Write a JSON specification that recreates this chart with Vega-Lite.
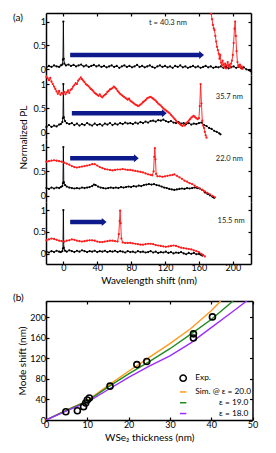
{
"$schema":"https://vega.github.io/schema/vega-lite/v6.json",
"padding":{"left":13,"top":12,"right":5,"bottom":5},
"config":{"font":"Lato","view":{"stroke":null},
"axis":{"domainColor":"black","domainWidth":1.5,"tickColor":"black","tickWidth":1.2,"tickSize":-3,"labelFontSize":9,"labelColor":"black","titleFontSize":10,"titleFontWeight":"normal","titleColor":"black","grid":false,"labelPadding":2,"labelOverlap":false,"labelFlush":false,"labelBound":false},
"axisLeft":{"labelPadding":3.5},
"title":{"fontWeight":"normal","fontSize":10,"color":"black"}},
"datasets":{
"a1":[
{"s":"r","x":-20,"y":0.04},{"s":"r","x":-17,"y":0.07},{"s":"r","x":-14,"y":0.05},{"s":"r","x":-11,"y":0.08},{"s":"r","x":-8,"y":0.06},{"s":"r","x":-5,"y":0.05},{"s":"r","x":-3,"y":0.08},{"s":"r","x":-1.2,"y":0.1},{"s":"r","x":-0.5,"y":0.2},{"s":"r","x":0,"y":1.0},{"s":"r","x":0.5,"y":0.22},{"s":"r","x":1.2,"y":0.12},{"s":"r","x":3,"y":0.08},{"s":"r","x":6,"y":0.1},{"s":"r","x":9,"y":0.07},{"s":"r","x":12,"y":0.09},{"s":"r","x":15,"y":0.06},{"s":"r","x":18,"y":0.08},{"s":"r","x":21,"y":0.1},{"s":"r","x":24,"y":0.06},{"s":"r","x":27,"y":0.08},{"s":"r","x":30,"y":0.05},{"s":"r","x":33,"y":0.07},{"s":"r","x":36,"y":0.09},{"s":"r","x":39,"y":0.06},{"s":"r","x":42,"y":0.08},{"s":"r","x":45,"y":0.05},{"s":"r","x":48,"y":0.07},{"s":"r","x":51,"y":0.04},{"s":"r","x":54,"y":0.06},{"s":"r","x":57,"y":0.08},{"s":"r","x":60,"y":0.05},{"s":"r","x":63,"y":0.07},{"s":"r","x":66,"y":0.03},{"s":"r","x":69,"y":0.06},{"s":"r","x":72,"y":0.08},{"s":"r","x":75,"y":0.05},{"s":"r","x":78,"y":0.07},{"s":"r","x":81,"y":0.04},{"s":"r","x":84,"y":0.06},{"s":"r","x":87,"y":0.09},{"s":"r","x":90,"y":0.05},{"s":"r","x":93,"y":0.07},{"s":"r","x":96,"y":0.04},{"s":"r","x":99,"y":0.06},{"s":"r","x":102,"y":0.08},{"s":"r","x":105,"y":0.05},{"s":"r","x":108,"y":0.03},{"s":"r","x":111,"y":0.06},{"s":"r","x":114,"y":0.08},{"s":"r","x":117,"y":0.05},{"s":"r","x":120,"y":0.07},{"s":"r","x":123,"y":0.04},{"s":"r","x":126,"y":0.06},{"s":"r","x":129,"y":0.03},{"s":"r","x":132,"y":0.07},{"s":"r","x":135,"y":0.05},{"s":"r","x":138,"y":0.08},{"s":"r","x":141,"y":0.04},{"s":"r","x":144,"y":0.06},{"s":"r","x":147,"y":0.03},{"s":"r","x":150,"y":0.05},{"s":"r","x":153,"y":0.07},{"s":"r","x":156,"y":0.04},{"s":"r","x":159,"y":0.06},{"s":"r","x":162,"y":0.03},{"s":"r","x":165,"y":0.05},{"s":"r","x":168,"y":0.07},{"s":"r","x":171,"y":0.04},{"s":"r","x":174,"y":0.06},{"s":"r","x":177,"y":0.03},{"s":"r","x":180,"y":0.05},{"s":"r","x":183,"y":0.04},{"s":"r","x":186,"y":0.06},{"s":"r","x":189,"y":0.03},{"s":"r","x":192,"y":0.05},{"s":"r","x":195,"y":0.02},{"s":"r","x":198,"y":0.04},{"s":"r","x":201,"y":0.06},{"s":"r","x":204,"y":0.03},{"s":"r","x":207,"y":0.05},{"s":"r","x":210,"y":0.02},{"s":"r","x":213,"y":0.04},{"s":"r","x":216,"y":0.0},{"s":"r","x":219,"y":-0.02},{"s":"r","x":221,"y":-0.04},
{"s":"c","x":173.8,"y":1.25},{"s":"c","x":174.6,"y":1.16},{"s":"c","x":175.5,"y":1.05},{"s":"c","x":176.5,"y":0.93},{"s":"c","x":177.5,"y":0.86},{"s":"c","x":178.4,"y":0.82},{"s":"c","x":179.4,"y":0.7},{"s":"c","x":180.4,"y":0.58},{"s":"c","x":181.4,"y":0.47},{"s":"c","x":182.4,"y":0.4},{"s":"c","x":183.4,"y":0.33},{"s":"c","x":184.3,"y":0.22},{"s":"c","x":185.2,"y":0.3},{"s":"c","x":186.1,"y":0.14},{"s":"c","x":187,"y":0.08},{"s":"c","x":188,"y":0.18},{"s":"c","x":189,"y":0.1},{"s":"c","x":190,"y":0.04},{"s":"c","x":191,"y":0.12},{"s":"c","x":192,"y":0.02},{"s":"c","x":193,"y":0.08},{"s":"c","x":194,"y":0.15},{"s":"c","x":195,"y":0.06},{"s":"c","x":196,"y":0.1},{"s":"c","x":197,"y":0.04},{"s":"c","x":198,"y":0.12},{"s":"c","x":199,"y":0.18},{"s":"c","x":200,"y":0.3},{"s":"c","x":201,"y":0.55},{"s":"c","x":202,"y":0.85},{"s":"c","x":202.8,"y":1.0},{"s":"c","x":203.6,"y":0.7},{"s":"c","x":204.5,"y":0.38},{"s":"c","x":205.5,"y":0.15},{"s":"c","x":206.5,"y":0.08},{"s":"c","x":207.5,"y":0.05},{"s":"c","x":208.5,"y":0.1},{"s":"c","x":209.5,"y":0.03},{"s":"c","x":210.5,"y":0.06},{"s":"c","x":211.5,"y":0.01}
],
"a2":[
{"s":"r","x":-20,"y":0.12},{"s":"r","x":-17,"y":0.16},{"s":"r","x":-14,"y":0.12},{"s":"r","x":-11,"y":0.15},{"s":"r","x":-8,"y":0.13},{"s":"r","x":-5,"y":0.17},{"s":"r","x":-3,"y":0.18},{"s":"r","x":-1.2,"y":0.22},{"s":"r","x":-0.5,"y":0.3},{"s":"r","x":0,"y":1.0},{"s":"r","x":0.5,"y":0.32},{"s":"r","x":2,"y":0.24},{"s":"r","x":4,"y":0.2},{"s":"r","x":7,"y":0.18},{"s":"r","x":10,"y":0.2},{"s":"r","x":13,"y":0.16},{"s":"r","x":16,"y":0.19},{"s":"r","x":19,"y":0.15},{"s":"r","x":22,"y":0.18},{"s":"r","x":25,"y":0.16},{"s":"r","x":28,"y":0.2},{"s":"r","x":31,"y":0.17},{"s":"r","x":34,"y":0.15},{"s":"r","x":37,"y":0.19},{"s":"r","x":40,"y":0.16},{"s":"r","x":43,"y":0.18},{"s":"r","x":46,"y":0.15},{"s":"r","x":49,"y":0.19},{"s":"r","x":52,"y":0.17},{"s":"r","x":55,"y":0.2},{"s":"r","x":58,"y":0.16},{"s":"r","x":61,"y":0.19},{"s":"r","x":64,"y":0.17},{"s":"r","x":67,"y":0.2},{"s":"r","x":70,"y":0.18},{"s":"r","x":73,"y":0.21},{"s":"r","x":76,"y":0.19},{"s":"r","x":79,"y":0.2},{"s":"r","x":82,"y":0.18},{"s":"r","x":85,"y":0.21},{"s":"r","x":88,"y":0.19},{"s":"r","x":91,"y":0.22},{"s":"r","x":94,"y":0.2},{"s":"r","x":97,"y":0.23},{"s":"r","x":100,"y":0.21},{"s":"r","x":103,"y":0.24},{"s":"r","x":106,"y":0.25},{"s":"r","x":109,"y":0.23},{"s":"r","x":112,"y":0.26},{"s":"r","x":115,"y":0.25},{"s":"r","x":118,"y":0.27},{"s":"r","x":121,"y":0.24},{"s":"r","x":124,"y":0.22},{"s":"r","x":127,"y":0.24},{"s":"r","x":130,"y":0.21},{"s":"r","x":133,"y":0.2},{"s":"r","x":136,"y":0.22},{"s":"r","x":139,"y":0.19},{"s":"r","x":142,"y":0.2},{"s":"r","x":145,"y":0.18},{"s":"r","x":148,"y":0.2},{"s":"r","x":151,"y":0.17},{"s":"r","x":154,"y":0.19},{"s":"r","x":157,"y":0.18},{"s":"r","x":160,"y":0.2},{"s":"r","x":163,"y":0.21},{"s":"r","x":166,"y":0.16},{"s":"r","x":169,"y":0.14},{"s":"r","x":172,"y":0.1},{"s":"r","x":175,"y":0.08},{"s":"r","x":178,"y":0.04},{"s":"r","x":181,"y":0.02},{"s":"r","x":184,"y":-0.01},{"s":"r","x":185.5,"y":-0.03},
{"s":"c","x":-20,"y":1.15},{"s":"c","x":-18.5,"y":1.12},{"s":"c","x":-17,"y":1.08},{"s":"c","x":-15.5,"y":1.13},{"s":"c","x":-14,"y":1.05},{"s":"c","x":-12.5,"y":1.0},{"s":"c","x":-11,"y":0.95},{"s":"c","x":-9.5,"y":0.9},{"s":"c","x":-8,"y":0.85},{"s":"c","x":-6.5,"y":0.8},{"s":"c","x":-5,"y":0.86},{"s":"c","x":-3.5,"y":0.78},{"s":"c","x":-2,"y":0.82},{"s":"c","x":-0.5,"y":0.8},{"s":"c","x":1,"y":0.84},{"s":"c","x":2.5,"y":0.79},{"s":"c","x":4,"y":0.83},{"s":"c","x":5.5,"y":0.87},{"s":"c","x":7,"y":0.82},{"s":"c","x":8.5,"y":0.88},{"s":"c","x":10,"y":0.9},{"s":"c","x":11.5,"y":0.95},{"s":"c","x":13,"y":0.98},{"s":"c","x":14.5,"y":1.02},{"s":"c","x":16,"y":1.0},{"s":"c","x":17.5,"y":1.07},{"s":"c","x":19,"y":1.1},{"s":"c","x":20.5,"y":1.14},{"s":"c","x":22,"y":1.1},{"s":"c","x":23.5,"y":1.07},{"s":"c","x":25,"y":1.04},{"s":"c","x":26.5,"y":1.0},{"s":"c","x":28,"y":0.98},{"s":"c","x":29.5,"y":0.96},{"s":"c","x":31,"y":0.93},{"s":"c","x":32.5,"y":0.9},{"s":"c","x":34,"y":0.88},{"s":"c","x":35.5,"y":0.85},{"s":"c","x":37,"y":0.82},{"s":"c","x":38.5,"y":0.8},{"s":"c","x":40,"y":0.78},{"s":"c","x":41.5,"y":0.76},{"s":"c","x":43,"y":0.79},{"s":"c","x":44.5,"y":0.75},{"s":"c","x":46,"y":0.73},{"s":"c","x":47.5,"y":0.76},{"s":"c","x":49,"y":0.78},{"s":"c","x":50.5,"y":0.8},{"s":"c","x":52,"y":0.84},{"s":"c","x":53.5,"y":0.86},{"s":"c","x":55,"y":0.89},{"s":"c","x":56.5,"y":0.9},{"s":"c","x":58,"y":0.92},{"s":"c","x":59.5,"y":0.95},{"s":"c","x":61,"y":0.93},{"s":"c","x":62.5,"y":0.9},{"s":"c","x":64,"y":0.86},{"s":"c","x":65.5,"y":0.83},{"s":"c","x":67,"y":0.8},{"s":"c","x":68.5,"y":0.78},{"s":"c","x":70,"y":0.76},{"s":"c","x":71.5,"y":0.74},{"s":"c","x":73,"y":0.72},{"s":"c","x":74.5,"y":0.7},{"s":"c","x":76,"y":0.68},{"s":"c","x":77.5,"y":0.7},{"s":"c","x":79,"y":0.66},{"s":"c","x":80.5,"y":0.64},{"s":"c","x":82,"y":0.62},{"s":"c","x":83.5,"y":0.6},{"s":"c","x":85,"y":0.58},{"s":"c","x":86.5,"y":0.57},{"s":"c","x":88,"y":0.55},{"s":"c","x":89.5,"y":0.56},{"s":"c","x":91,"y":0.58},{"s":"c","x":92.5,"y":0.6},{"s":"c","x":94,"y":0.63},{"s":"c","x":95.5,"y":0.65},{"s":"c","x":97,"y":0.67},{"s":"c","x":98.5,"y":0.7},{"s":"c","x":100,"y":0.72},{"s":"c","x":101.5,"y":0.73},{"s":"c","x":103,"y":0.74},{"s":"c","x":104.5,"y":0.72},{"s":"c","x":106,"y":0.7},{"s":"c","x":107.5,"y":0.68},{"s":"c","x":109,"y":0.66},{"s":"c","x":110.5,"y":0.63},{"s":"c","x":112,"y":0.6},{"s":"c","x":113.5,"y":0.58},{"s":"c","x":115,"y":0.56},{"s":"c","x":116.5,"y":0.53},{"s":"c","x":118,"y":0.5},{"s":"c","x":119.5,"y":0.48},{"s":"c","x":121,"y":0.46},{"s":"c","x":122.5,"y":0.44},{"s":"c","x":124,"y":0.42},{"s":"c","x":125.5,"y":0.4},{"s":"c","x":127,"y":0.37},{"s":"c","x":128.5,"y":0.34},{"s":"c","x":130,"y":0.31},{"s":"c","x":131.5,"y":0.28},{"s":"c","x":133,"y":0.25},{"s":"c","x":134.5,"y":0.22},{"s":"c","x":136,"y":0.2},{"s":"c","x":137.5,"y":0.18},{"s":"c","x":139,"y":0.16},{"s":"c","x":140.5,"y":0.14},{"s":"c","x":142,"y":0.17},{"s":"c","x":143.5,"y":0.15},{"s":"c","x":145,"y":0.2},{"s":"c","x":146.5,"y":0.22},{"s":"c","x":148,"y":0.25},{"s":"c","x":149.5,"y":0.28},{"s":"c","x":151,"y":0.31},{"s":"c","x":152.5,"y":0.33},{"s":"c","x":154,"y":0.35},{"s":"c","x":155.5,"y":0.32},{"s":"c","x":157,"y":0.3},{"s":"c","x":158.5,"y":0.28},{"s":"c","x":160,"y":0.3},{"s":"c","x":161,"y":0.55},{"s":"c","x":162,"y":1.0},{"s":"c","x":163,"y":0.6},{"s":"c","x":164,"y":0.25},{"s":"c","x":165,"y":0.15},{"s":"c","x":166,"y":0.1},{"s":"c","x":167,"y":0.02},{"s":"c","x":168,"y":-0.05},{"s":"c","x":169,"y":-0.1}
],
"a3":[
{"s":"r","x":-20,"y":0.16},{"s":"r","x":-17,"y":0.14},{"s":"r","x":-14,"y":0.17},{"s":"r","x":-11,"y":0.15},{"s":"r","x":-8,"y":0.17},{"s":"r","x":-5,"y":0.16},{"s":"r","x":-3,"y":0.18},{"s":"r","x":-1.2,"y":0.2},{"s":"r","x":-0.5,"y":0.26},{"s":"r","x":0,"y":1.0},{"s":"r","x":0.5,"y":0.28},{"s":"r","x":2,"y":0.22},{"s":"r","x":4,"y":0.19},{"s":"r","x":7,"y":0.17},{"s":"r","x":10,"y":0.16},{"s":"r","x":13,"y":0.15},{"s":"r","x":16,"y":0.16},{"s":"r","x":19,"y":0.15},{"s":"r","x":22,"y":0.17},{"s":"r","x":25,"y":0.16},{"s":"r","x":28,"y":0.17},{"s":"r","x":31,"y":0.18},{"s":"r","x":34,"y":0.2},{"s":"r","x":36,"y":0.23},{"s":"r","x":38,"y":0.22},{"s":"r","x":41,"y":0.19},{"s":"r","x":44,"y":0.17},{"s":"r","x":47,"y":0.16},{"s":"r","x":50,"y":0.15},{"s":"r","x":53,"y":0.16},{"s":"r","x":56,"y":0.17},{"s":"r","x":59,"y":0.16},{"s":"r","x":62,"y":0.17},{"s":"r","x":65,"y":0.16},{"s":"r","x":68,"y":0.18},{"s":"r","x":71,"y":0.17},{"s":"r","x":74,"y":0.18},{"s":"r","x":77,"y":0.19},{"s":"r","x":80,"y":0.18},{"s":"r","x":83,"y":0.2},{"s":"r","x":86,"y":0.19},{"s":"r","x":89,"y":0.21},{"s":"r","x":92,"y":0.2},{"s":"r","x":95,"y":0.22},{"s":"r","x":98,"y":0.23},{"s":"r","x":101,"y":0.24},{"s":"r","x":104,"y":0.23},{"s":"r","x":107,"y":0.24},{"s":"r","x":110,"y":0.22},{"s":"r","x":113,"y":0.21},{"s":"r","x":116,"y":0.19},{"s":"r","x":119,"y":0.17},{"s":"r","x":122,"y":0.16},{"s":"r","x":125,"y":0.14},{"s":"r","x":128,"y":0.13},{"s":"r","x":131,"y":0.12},{"s":"r","x":134,"y":0.13},{"s":"r","x":137,"y":0.14},{"s":"r","x":140,"y":0.15},{"s":"r","x":143,"y":0.14},{"s":"r","x":146,"y":0.16},{"s":"r","x":149,"y":0.15},{"s":"r","x":152,"y":0.16},{"s":"r","x":155,"y":0.17},{"s":"r","x":158,"y":0.16},{"s":"r","x":161,"y":0.15},{"s":"r","x":164,"y":0.12},{"s":"r","x":167,"y":0.07},{"s":"r","x":170,"y":0.04},{"s":"r","x":173,"y":0.01},{"s":"r","x":176,"y":-0.02},{"s":"r","x":178,"y":-0.04},
{"s":"c","x":-20,"y":0.7},{"s":"c","x":-17,"y":0.71},{"s":"c","x":-14,"y":0.72},{"s":"c","x":-11,"y":0.73},{"s":"c","x":-8,"y":0.72},{"s":"c","x":-5,"y":0.71},{"s":"c","x":-2,"y":0.7},{"s":"c","x":1,"y":0.68},{"s":"c","x":4,"y":0.66},{"s":"c","x":7,"y":0.64},{"s":"c","x":10,"y":0.61},{"s":"c","x":13,"y":0.59},{"s":"c","x":16,"y":0.58},{"s":"c","x":19,"y":0.59},{"s":"c","x":22,"y":0.6},{"s":"c","x":25,"y":0.61},{"s":"c","x":28,"y":0.62},{"s":"c","x":31,"y":0.63},{"s":"c","x":34,"y":0.65},{"s":"c","x":37,"y":0.65},{"s":"c","x":40,"y":0.62},{"s":"c","x":43,"y":0.59},{"s":"c","x":46,"y":0.57},{"s":"c","x":49,"y":0.55},{"s":"c","x":52,"y":0.54},{"s":"c","x":55,"y":0.53},{"s":"c","x":58,"y":0.52},{"s":"c","x":61,"y":0.53},{"s":"c","x":64,"y":0.54},{"s":"c","x":67,"y":0.54},{"s":"c","x":70,"y":0.55},{"s":"c","x":73,"y":0.54},{"s":"c","x":76,"y":0.53},{"s":"c","x":79,"y":0.53},{"s":"c","x":82,"y":0.52},{"s":"c","x":85,"y":0.51},{"s":"c","x":88,"y":0.5},{"s":"c","x":91,"y":0.49},{"s":"c","x":94,"y":0.48},{"s":"c","x":97,"y":0.46},{"s":"c","x":100,"y":0.44},{"s":"c","x":103,"y":0.43},{"s":"c","x":105,"y":0.42},{"s":"c","x":106.5,"y":0.5},{"s":"c","x":107.3,"y":0.8},{"s":"c","x":108,"y":0.98},{"s":"c","x":108.7,"y":0.75},{"s":"c","x":109.5,"y":0.45},{"s":"c","x":111,"y":0.4},{"s":"c","x":114,"y":0.4},{"s":"c","x":117,"y":0.39},{"s":"c","x":120,"y":0.4},{"s":"c","x":123,"y":0.41},{"s":"c","x":126,"y":0.42},{"s":"c","x":129,"y":0.43},{"s":"c","x":131,"y":0.44},{"s":"c","x":134,"y":0.41},{"s":"c","x":137,"y":0.38},{"s":"c","x":140,"y":0.35},{"s":"c","x":143,"y":0.31},{"s":"c","x":146,"y":0.29},{"s":"c","x":149,"y":0.26},{"s":"c","x":152,"y":0.24},{"s":"c","x":155,"y":0.21},{"s":"c","x":158,"y":0.18},{"s":"c","x":161,"y":0.15},{"s":"c","x":164,"y":0.12},{"s":"c","x":167,"y":0.09},{"s":"c","x":170,"y":0.06},{"s":"c","x":173,"y":0.03},{"s":"c","x":176,"y":0.0},{"s":"c","x":179,"y":-0.03}
],
"a4":[
{"s":"r","x":-20,"y":0.05},{"s":"r","x":-17,"y":0.03},{"s":"r","x":-14,"y":0.06},{"s":"r","x":-11,"y":0.04},{"s":"r","x":-8,"y":0.07},{"s":"r","x":-5,"y":0.05},{"s":"r","x":-3,"y":0.04},{"s":"r","x":-1.2,"y":0.06},{"s":"r","x":-0.5,"y":0.12},{"s":"r","x":0,"y":1.0},{"s":"r","x":0.5,"y":0.14},{"s":"r","x":2,"y":0.07},{"s":"r","x":4,"y":0.05},{"s":"r","x":7,"y":0.08},{"s":"r","x":10,"y":0.06},{"s":"r","x":13,"y":0.04},{"s":"r","x":16,"y":0.07},{"s":"r","x":19,"y":0.05},{"s":"r","x":22,"y":0.08},{"s":"r","x":25,"y":0.06},{"s":"r","x":28,"y":0.04},{"s":"r","x":31,"y":0.06},{"s":"r","x":34,"y":0.05},{"s":"r","x":37,"y":0.07},{"s":"r","x":40,"y":0.04},{"s":"r","x":43,"y":0.06},{"s":"r","x":46,"y":0.05},{"s":"r","x":49,"y":0.07},{"s":"r","x":52,"y":0.04},{"s":"r","x":55,"y":0.06},{"s":"r","x":58,"y":0.05},{"s":"r","x":61,"y":0.07},{"s":"r","x":64,"y":0.04},{"s":"r","x":67,"y":0.06},{"s":"r","x":70,"y":0.05},{"s":"r","x":73,"y":0.03},{"s":"r","x":76,"y":0.06},{"s":"r","x":79,"y":0.04},{"s":"r","x":82,"y":0.05},{"s":"r","x":85,"y":0.03},{"s":"r","x":88,"y":0.06},{"s":"r","x":91,"y":0.04},{"s":"r","x":94,"y":0.05},{"s":"r","x":97,"y":0.03},{"s":"r","x":100,"y":0.04},{"s":"r","x":103,"y":0.06},{"s":"r","x":106,"y":0.03},{"s":"r","x":109,"y":0.05},{"s":"r","x":112,"y":0.02},{"s":"r","x":115,"y":0.04},{"s":"r","x":118,"y":0.03},{"s":"r","x":121,"y":0.05},{"s":"r","x":124,"y":0.02},{"s":"r","x":127,"y":0.04},{"s":"r","x":130,"y":0.01},{"s":"r","x":133,"y":0.03},{"s":"r","x":136,"y":0.02},{"s":"r","x":139,"y":0.04},{"s":"r","x":142,"y":0.01},{"s":"r","x":145,"y":-0.01},{"s":"r","x":148,"y":0.02},{"s":"r","x":151,"y":0.0},{"s":"r","x":154,"y":0.02},{"s":"r","x":157,"y":-0.01},{"s":"r","x":160,"y":0.0},{"s":"r","x":162,"y":-0.02},{"s":"r","x":164,"y":-0.04},
{"s":"c","x":-20,"y":0.31},{"s":"c","x":-17,"y":0.33},{"s":"c","x":-14,"y":0.35},{"s":"c","x":-11,"y":0.34},{"s":"c","x":-8,"y":0.32},{"s":"c","x":-5,"y":0.3},{"s":"c","x":-2,"y":0.29},{"s":"c","x":1,"y":0.28},{"s":"c","x":4,"y":0.3},{"s":"c","x":7,"y":0.31},{"s":"c","x":10,"y":0.33},{"s":"c","x":13,"y":0.32},{"s":"c","x":16,"y":0.3},{"s":"c","x":19,"y":0.29},{"s":"c","x":22,"y":0.28},{"s":"c","x":25,"y":0.29},{"s":"c","x":28,"y":0.3},{"s":"c","x":31,"y":0.31},{"s":"c","x":34,"y":0.31},{"s":"c","x":37,"y":0.3},{"s":"c","x":40,"y":0.28},{"s":"c","x":43,"y":0.27},{"s":"c","x":46,"y":0.27},{"s":"c","x":49,"y":0.28},{"s":"c","x":52,"y":0.29},{"s":"c","x":55,"y":0.3},{"s":"c","x":58,"y":0.3},{"s":"c","x":61,"y":0.29},{"s":"c","x":64,"y":0.28},{"s":"c","x":65.5,"y":0.45},{"s":"c","x":66.3,"y":0.75},{"s":"c","x":67,"y":0.99},{"s":"c","x":67.7,"y":0.7},{"s":"c","x":68.5,"y":0.35},{"s":"c","x":70,"y":0.26},{"s":"c","x":73,"y":0.25},{"s":"c","x":76,"y":0.25},{"s":"c","x":79,"y":0.25},{"s":"c","x":82,"y":0.24},{"s":"c","x":85,"y":0.23},{"s":"c","x":88,"y":0.22},{"s":"c","x":91,"y":0.21},{"s":"c","x":94,"y":0.21},{"s":"c","x":97,"y":0.22},{"s":"c","x":100,"y":0.23},{"s":"c","x":103,"y":0.23},{"s":"c","x":106,"y":0.22},{"s":"c","x":109,"y":0.2},{"s":"c","x":112,"y":0.19},{"s":"c","x":115,"y":0.18},{"s":"c","x":118,"y":0.17},{"s":"c","x":121,"y":0.16},{"s":"c","x":124,"y":0.17},{"s":"c","x":127,"y":0.18},{"s":"c","x":130,"y":0.19},{"s":"c","x":133,"y":0.18},{"s":"c","x":136,"y":0.16},{"s":"c","x":139,"y":0.14},{"s":"c","x":142,"y":0.13},{"s":"c","x":145,"y":0.12},{"s":"c","x":148,"y":0.11},{"s":"c","x":151,"y":0.1},{"s":"c","x":154,"y":0.08},{"s":"c","x":157,"y":0.06},{"s":"c","x":160,"y":0.04},{"s":"c","x":163,"y":0.0},{"s":"c","x":165,"y":-0.03},{"s":"c","x":167,"y":-0.06}
],
"arrows":[{"p":1,"x":8,"x2":166,"y":0.3},{"p":2,"x":10,"x2":122,"y":0.4},{"p":3,"x":8,"x2":89,"y":0.77},{"p":4,"x":8,"x2":51,"y":0.73}],
"notes":[{"p":1,"x":123.5,"y":0.96,"label":"t = 40.3 nm"},{"p":2,"x":196,"y":0.74,"label":"35.7 nm"},{"p":3,"x":196,"y":0.75,"label":"22.0 nm"},{"p":4,"x":198,"y":0.75,"label":"15.5 nm"}],
"sim":[
{"eps":"Sim. @ ε = 20.0","d":0,"m":0},{"eps":"Sim. @ ε = 20.0","d":5,"m":19},{"eps":"Sim. @ ε = 20.0","d":10,"m":38},{"eps":"Sim. @ ε = 20.0","d":15,"m":67},{"eps":"Sim. @ ε = 20.0","d":20,"m":95},{"eps":"Sim. @ ε = 20.0","d":25,"m":122},{"eps":"Sim. @ ε = 20.0","d":30,"m":149},{"eps":"Sim. @ ε = 20.0","d":35,"m":178},{"eps":"Sim. @ ε = 20.0","d":40,"m":213},{"eps":"Sim. @ ε = 20.0","d":42.3,"m":232},
{"eps":"ε = 19.0","d":0,"m":0},{"eps":"ε = 19.0","d":5,"m":19},{"eps":"ε = 19.0","d":10,"m":37},{"eps":"ε = 19.0","d":15,"m":64},{"eps":"ε = 19.0","d":20,"m":90},{"eps":"ε = 19.0","d":25,"m":114},{"eps":"ε = 19.0","d":30,"m":139},{"eps":"ε = 19.0","d":35,"m":167},{"eps":"ε = 19.0","d":40,"m":196},{"eps":"ε = 19.0","d":45.3,"m":232},
{"eps":"ε = 18.0","d":0,"m":0},{"eps":"ε = 18.0","d":5,"m":18},{"eps":"ε = 18.0","d":10,"m":35},{"eps":"ε = 18.0","d":15,"m":59},{"eps":"ε = 18.0","d":20,"m":83},{"eps":"ε = 18.0","d":25,"m":105},{"eps":"ε = 18.0","d":30,"m":125},{"eps":"ε = 18.0","d":35,"m":150},{"eps":"ε = 18.0","d":40,"m":180},{"eps":"ε = 18.0","d":45,"m":210},{"eps":"ε = 18.0","d":48.6,"m":232}
],
"exp":[{"d":4.8,"m":16},{"d":7.6,"m":18},{"d":9.1,"m":26},{"d":9.6,"m":33},{"d":10.0,"m":39},{"d":10.5,"m":43},{"d":15.5,"m":66},{"d":22.0,"m":108},{"d":24.4,"m":114},{"d":35.7,"m":168},{"d":35.7,"m":160},{"d":40.3,"m":201}]
},
"vconcat":[
{"vconcat":[
{"width":205,"height":62,"data":{"name":"a1"},
"title":{"text":"(a)","anchor":"start","frame":"group","dx":-33,"offset":0,"dy":11,"fontSize":10},
"encoding":{"x":{"field":"x","type":"quantitative","scale":{"domain":[-20.5,221.5],"nice":false,"zero":false},"axis":null},
"y":{"field":"y","type":"quantitative","scale":{"domain":[-0.12,1.18],"nice":false,"zero":false},"axis":null},
"color":{"field":"s","type":"nominal","scale":{"domain":["r","c"],"range":["#000000","#ff1a1a"]},"legend":null}},
"layer":[
{"mark":{"type":"line","strokeWidth":0.9,"clip":true},"encoding":{"x":{"field":"x","type":"quantitative","scale":{"domain":[-20.5,221.5],"nice":false,"zero":false},"axis":{"orient":"top","values":[0,40,80,120,160,200],"labels":false,"title":null}},"y":{"field":"y","type":"quantitative","scale":{"domain":[-0.12,1.18],"nice":false,"zero":false},"axis":{"orient":"left","values":[0,0.5,1],"format":"~g","title":null}}}},
{"mark":{"type":"point","filled":true,"size":5,"opacity":1,"clip":true},"encoding":{"y":{"field":"y","type":"quantitative","scale":{"domain":[-0.12,1.18],"nice":false,"zero":false},"axis":{"orient":"right","values":[0,0.5,1],"labels":false,"title":null}}}},
{"data":{"name":"arrows"},"transform":[{"filter":"datum.p == 1"}],"mark":{"type":"rule","strokeWidth":4.5,"x2Offset":-3},"encoding":{"x2":{"field":"x2"},"color":{"value":"#0d1a8c"}}},
{"data":{"name":"arrows"},"transform":[{"filter":"datum.p == 1"}],"mark":{"type":"point","filled":true,"opacity":1,"size":64,"shape":"M -1.2 -1 L 0 0 L -1.2 1 Z"},"encoding":{"x":{"field":"x2","type":"quantitative","scale":{"domain":[-20.5,221.5],"nice":false,"zero":false},"axis":null},"color":{"value":"#0d1a8c"}}},
{"data":{"name":"notes"},"transform":[{"filter":"datum.p == 1"}],"mark":{"type":"text","fontSize":7.5},"encoding":{"text":{"field":"label"},"color":{"value":"#222222"}}}
],
"resolve":{"axis":{"x":"independent","y":"independent"}}},
{"width":205,"height":64,"data":{"name":"a2"},
"encoding":{"x":{"field":"x","type":"quantitative","scale":{"domain":[-20.5,221.5],"nice":false,"zero":false},"axis":null},
"y":{"field":"y","type":"quantitative","scale":{"domain":[-0.127,1.187],"nice":false,"zero":false},"axis":null},
"color":{"field":"s","type":"nominal","scale":{"domain":["r","c"],"range":["#000000","#ff1a1a"]},"legend":null}},
"layer":[
{"mark":{"type":"line","strokeWidth":0.9},"encoding":{"y":{"field":"y","type":"quantitative","scale":{"domain":[-0.127,1.187],"nice":false,"zero":false},"axis":{"orient":"left","values":[0,0.5,1],"format":"~g","title":"Normalized PL","titleY":62,"titlePadding":4}}}},
{"mark":{"type":"point","filled":true,"size":5,"opacity":1},"encoding":{"y":{"field":"y","type":"quantitative","scale":{"domain":[-0.127,1.187],"nice":false,"zero":false},"axis":{"orient":"right","values":[0,0.5,1],"labels":false,"title":null}}}},
{"data":{"name":"arrows"},"transform":[{"filter":"datum.p == 2"}],"mark":{"type":"rule","strokeWidth":4.5,"x2Offset":-3},"encoding":{"x2":{"field":"x2"},"color":{"value":"#0d1a8c"}}},
{"data":{"name":"arrows"},"transform":[{"filter":"datum.p == 2"}],"mark":{"type":"point","filled":true,"opacity":1,"size":64,"shape":"M -1.2 -1 L 0 0 L -1.2 1 Z"},"encoding":{"x":{"field":"x2","type":"quantitative","scale":{"domain":[-20.5,221.5],"nice":false,"zero":false},"axis":null},"color":{"value":"#0d1a8c"}}},
{"data":{"name":"notes"},"transform":[{"filter":"datum.p == 2"}],"mark":{"type":"text","fontSize":7.5},"encoding":{"text":{"field":"label"},"color":{"value":"#222222"}}}
],
"resolve":{"axis":{"x":"independent","y":"independent"}}},
{"width":205,"height":63,"data":{"name":"a3"},
"encoding":{"x":{"field":"x","type":"quantitative","scale":{"domain":[-20.5,221.5],"nice":false,"zero":false},"axis":null},
"y":{"field":"y","type":"quantitative","scale":{"domain":[-0.127,1.166],"nice":false,"zero":false},"axis":null},
"color":{"field":"s","type":"nominal","scale":{"domain":["r","c"],"range":["#000000","#ff1a1a"]},"legend":null}},
"layer":[
{"mark":{"type":"line","strokeWidth":0.9},"encoding":{"y":{"field":"y","type":"quantitative","scale":{"domain":[-0.127,1.166],"nice":false,"zero":false},"axis":{"orient":"left","values":[0,0.5,1],"format":"~g","title":null}}}},
{"mark":{"type":"point","filled":true,"size":5,"opacity":1},"encoding":{"y":{"field":"y","type":"quantitative","scale":{"domain":[-0.127,1.166],"nice":false,"zero":false},"axis":{"orient":"right","values":[0,0.5,1],"labels":false,"title":null}}}},
{"data":{"name":"arrows"},"transform":[{"filter":"datum.p == 3"}],"mark":{"type":"rule","strokeWidth":4.5,"x2Offset":-3},"encoding":{"x2":{"field":"x2"},"color":{"value":"#0d1a8c"}}},
{"data":{"name":"arrows"},"transform":[{"filter":"datum.p == 3"}],"mark":{"type":"point","filled":true,"opacity":1,"size":64,"shape":"M -1.2 -1 L 0 0 L -1.2 1 Z"},"encoding":{"x":{"field":"x2","type":"quantitative","scale":{"domain":[-20.5,221.5],"nice":false,"zero":false},"axis":null},"color":{"value":"#0d1a8c"}}},
{"data":{"name":"notes"},"transform":[{"filter":"datum.p == 3"}],"mark":{"type":"text","fontSize":7.5},"encoding":{"text":{"field":"label"},"color":{"value":"#222222"}}}
],
"resolve":{"axis":{"x":"independent","y":"independent"}}},
{"width":205,"height":62,"data":{"name":"a4"},
"encoding":{"x":{"field":"x","type":"quantitative","scale":{"domain":[-20.5,221.5],"nice":false,"zero":false},"axis":null},
"y":{"field":"y","type":"quantitative","scale":{"domain":[-0.233,1.185],"nice":false,"zero":false},"axis":null},
"color":{"field":"s","type":"nominal","scale":{"domain":["r","c"],"range":["#000000","#ff1a1a"]},"legend":null}},
"layer":[
{"mark":{"type":"line","strokeWidth":0.9},"encoding":{"x":{"field":"x","type":"quantitative","scale":{"domain":[-20.5,221.5],"nice":false,"zero":false},"axis":{"orient":"bottom","values":[0,40,80,120,160,200],"title":"Wavelength shift (nm)","labelPadding":2,"titlePadding":3}},"y":{"field":"y","type":"quantitative","scale":{"domain":[-0.233,1.185],"nice":false,"zero":false},"axis":{"orient":"left","values":[0,0.5,1],"format":"~g","title":null}}}},
{"mark":{"type":"point","filled":true,"size":5,"opacity":1},"encoding":{"y":{"field":"y","type":"quantitative","scale":{"domain":[-0.233,1.185],"nice":false,"zero":false},"axis":{"orient":"right","values":[0,0.5,1],"labels":false,"title":null}}}},
{"data":{"name":"arrows"},"transform":[{"filter":"datum.p == 4"}],"mark":{"type":"rule","strokeWidth":4.5,"x2Offset":-3},"encoding":{"x2":{"field":"x2"},"color":{"value":"#0d1a8c"}}},
{"data":{"name":"arrows"},"transform":[{"filter":"datum.p == 4"}],"mark":{"type":"point","filled":true,"opacity":1,"size":64,"shape":"M -1.2 -1 L 0 0 L -1.2 1 Z"},"encoding":{"x":{"field":"x2","type":"quantitative","scale":{"domain":[-20.5,221.5],"nice":false,"zero":false},"axis":null},"color":{"value":"#0d1a8c"}}},
{"data":{"name":"notes"},"transform":[{"filter":"datum.p == 4"}],"mark":{"type":"text","fontSize":7.5},"encoding":{"text":{"field":"label"},"color":{"value":"#222222"}}}
],
"resolve":{"axis":{"x":"independent","y":"independent"}}}
],"spacing":0,"bounds":"flush"},
{"width":206.5,"height":119,
"title":{"text":"(b)","anchor":"start","frame":"group","dx":-33,"offset":0,"dy":3,"fontSize":10},
"layer":[
{"data":{"name":"sim"},"mark":{"type":"line","strokeWidth":1.4,"clip":true},
"encoding":{
"x":{"field":"d","type":"quantitative","scale":{"domain":[0,50],"nice":false},"axis":{"orient":"bottom","values":[0,10,20,30,40,50],"title":"WSe₂ thickness (nm)","labelPadding":3,"titlePadding":3}},
"y":{"field":"m","type":"quantitative","scale":{"domain":[0,232],"nice":false},"axis":{"orient":"left","values":[0,40,80,120,160,200],"title":"Mode shift (nm)","titlePadding":2}},
"color":{"field":"eps","type":"nominal","scale":{"domain":["Exp.","Sim. @ ε = 20.0","ε = 19.0","ε = 18.0"],"range":["#000000","#ff9a1c","#1e8c1e","#9b2cff"]},
"legend":{"orient":"none","legendX":133,"legendY":73,"title":null,"padding":0,"labelFontSize":8.3,"labelColor":"black","symbolSize":40,"symbolStrokeWidth":1.5,"rowPadding":1.8,"labelOffset":8,
"encode":{"symbols":{"update":{"shape":{"signal":"datum.value === 'Exp.' ? 'circle' : 'stroke'"},"fill":{"value":"transparent"},"strokeWidth":{"value":1.5}}},
"labels":{"update":{"align":{"signal":"datum.value === 'Exp.' || datum.value === 'Sim. @ ε = 20.0' ? 'left' : 'right'"},"dx":{"signal":"datum.value === 'Exp.' || datum.value === 'Sim. @ ε = 20.0' ? 0 : 53"}}}}}}}},
{"data":{"name":"exp"},"mark":{"type":"point","filled":false,"size":36,"strokeWidth":1.6,"opacity":1},
"encoding":{
"x":{"field":"d","type":"quantitative","scale":{"domain":[0,50],"nice":false},"axis":{"orient":"top","values":[0,10,20,30,40,50],"labels":false,"title":null}},
"y":{"field":"m","type":"quantitative","scale":{"domain":[0,232],"nice":false},"axis":{"orient":"right","values":[0,40,80,120,160,200],"labels":false,"title":null}},
"color":{"datum":"Exp."}}}
],
"resolve":{"axis":{"x":"independent","y":"independent"}}}
],
"spacing":8,
"resolve":{"scale":{"color":"independent"},"legend":{"color":"independent"}}
}
